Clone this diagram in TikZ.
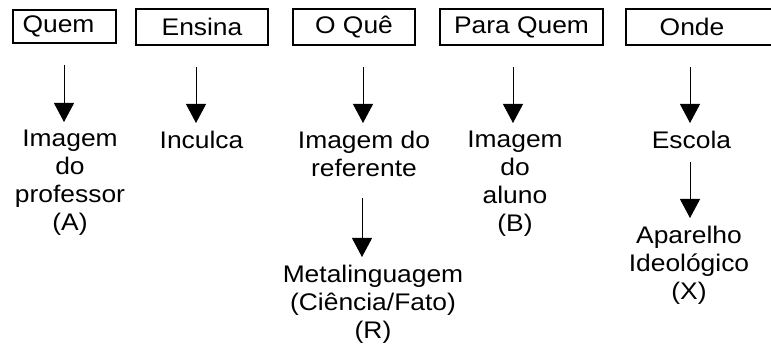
\documentclass[tikz,border=0pt]{standalone}
\usepackage{fontspec}
\setmainfont{Liberation Sans}[FakeStretch=1.1]
\usetikzlibrary{arrows.meta}

\begin{document}
\begin{tikzpicture}[x=1pt,y=-1pt,font=\fontsize{24}{27.8}\selectfont,
  caixa/.style={draw,line width=1.1pt,inner sep=0pt,minimum height=36pt},
  texto/.style={anchor=north,align=center,inner sep=0pt},
  seta/.style={-{Triangle[width=20pt,length=19pt]},line width=0.9pt,shorten >=8pt}]
\useasboundingbox (0,0) rectangle (771,347);
\clip (0,0) rectangle (771,347);

\node[caixa,minimum width=103pt,minimum height=33pt,line width=1.5pt] (quem) at (64.5,26.5) {Quem\hspace*{12pt}};
\node[caixa,minimum width=132pt] (ensina) at (202,27) {Ensina};
\node[caixa,minimum width=122pt] (oque) at (354,27) {O Quê};
\node[caixa,minimum width=163pt] (paraquem) at (521.5,27) {Para Quem};
\node[caixa,minimum width=150pt] (onde) at (701,27) {Onde\hspace*{18pt}};

\node[texto] (profA) at (70,130) {Imagem\\do\\professor\\(A)};
\node[texto] (inculca) at (201.5,131) {Inculca};
\node[texto] (referente) at (364,131) {Imagem do\\referente};
\node[texto] (alunoB) at (515,131) {Imagem\\do\\aluno\\(B)};
\node[texto] (escola) at (691.5,131) {Escola};
\node[texto] (meta) at (373,265) {Metalinguagem\\(Ciência/Fato)\\(R)};
\node[texto] (aparelho) at (689,226) {Aparelho\\Ideológico\\(X)};

\coordinate (s1) at (64,65);
\coordinate (s2) at (196,67);
\coordinate (s3) at (363,67);
\coordinate (s4) at (513,67);
\coordinate (s5) at (690,67);
\coordinate (s6) at (362,198);
\coordinate (s7) at (690,162);

\draw[seta] (s1) -- (s1 |- profA.north);
\draw[seta] (s2) -- (s2 |- inculca.north);
\draw[seta] (s3) -- (s3 |- referente.north);
\draw[seta] (s4) -- (s4 |- alunoB.north);
\draw[seta] (s5) -- (s5 |- escola.north);
\draw[seta] (s6) -- (s6 |- meta.north);
\draw[seta] (s7) -- (s7 |- aparelho.north);

\end{tikzpicture}
\end{document}
